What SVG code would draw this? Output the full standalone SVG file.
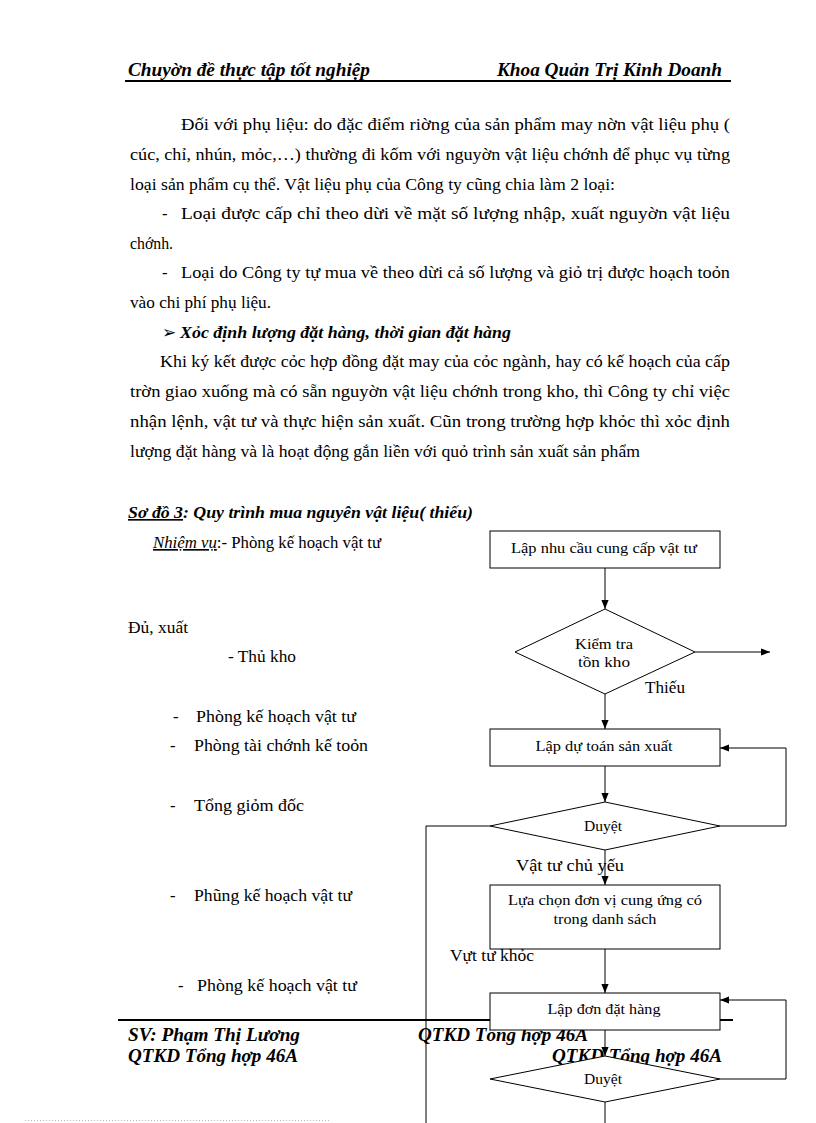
<svg xmlns="http://www.w3.org/2000/svg" width="816" height="1123" viewBox="0 0 816 1123">
<defs>
<style>
.body{font-family:"Liberation Serif","Times New Roman",serif;font-size:16.5px;fill:#000}
.hdr{font-family:"Liberation Serif","Times New Roman",serif;font-size:18px;font-weight:bold;font-style:italic;fill:#000}
.lbl{font-family:"Liberation Serif","Times New Roman",serif;font-size:16.5px;fill:#000}
.fc{font-family:"Liberation Serif","Times New Roman",serif;font-size:15.5px;fill:#000;text-anchor:middle}
.shape{fill:#fff;stroke:#000;stroke-width:1}
.conn{fill:none;stroke:#000;stroke-width:1}
</style>
<marker id="arr" viewBox="0 0 10 10" refX="10" refY="5" markerWidth="9" markerHeight="9" markerUnits="userSpaceOnUse" orient="auto">
<path d="M0,1 L10,5 L0,9 z" fill="#000"/>
</marker>
</defs>
<rect width="816" height="1123" fill="#fff"/>

<g id="header">
<text class="hdr" x="128" y="76" textLength="242" lengthAdjust="spacingAndGlyphs">Chuyờn đề thực tập tốt nghiệp</text>
<text class="hdr" x="497" y="76" textLength="225" lengthAdjust="spacingAndGlyphs">Khoa Quản Trị Kinh Doanh</text>
<line x1="125" y1="81" x2="731" y2="81" stroke="#000" stroke-width="2"/>
</g>

<g id="body-text">
<text class="body" x="181" y="130" textLength="549" lengthAdjust="spacingAndGlyphs">Đối với phụ liệu: do đặc điểm riờng của sản phẩm may nờn vật liệu phụ (</text>
<text class="body" x="130" y="160" textLength="600" lengthAdjust="spacingAndGlyphs">cúc, chỉ, nhún, mỏc,…) thường đi kốm với nguyờn vật liệu chớnh để phục vụ từng</text>
<text class="body" x="130" y="190" textLength="485" lengthAdjust="spacingAndGlyphs">loại sản phẩm cụ thể. Vật liệu phụ của Công ty cũng chia làm 2 loại:</text>
<text class="body" x="162" y="219">-</text>
<text class="body" x="181" y="219" textLength="549" lengthAdjust="spacingAndGlyphs">Loại được cấp chỉ theo dừi về mặt số lượng nhập, xuất nguyờn vật liệu</text>
<text class="body" x="130" y="249" textLength="43" lengthAdjust="spacingAndGlyphs">chớnh.</text>
<text class="body" x="162" y="278">-</text>
<text class="body" x="181" y="278" textLength="549" lengthAdjust="spacingAndGlyphs">Loại do Công ty tự mua về theo dừi cả số lượng và giỏ trị được hoạch toỏn</text>
<text class="body" x="130" y="308" textLength="141" lengthAdjust="spacingAndGlyphs">vào chi phí phụ liệu.</text>
<text class="body" x="162" y="338" font-size="13">➢</text>
<text class="body" x="180" y="338" font-weight="bold" font-style="italic" textLength="331" lengthAdjust="spacingAndGlyphs">Xỏc định lượng đặt hàng, thời gian đặt hàng</text>
<text class="body" x="160" y="367" textLength="570" lengthAdjust="spacingAndGlyphs">Khi ký kết được cỏc hợp đồng đặt may của cỏc ngành, hay có kế hoạch của cấp</text>
<text class="body" x="130" y="397" textLength="600" lengthAdjust="spacingAndGlyphs">trờn giao xuống mà có sẵn nguyờn vật liệu chớnh trong kho, thì Công ty chỉ việc</text>
<text class="body" x="130" y="427" textLength="600" lengthAdjust="spacingAndGlyphs">nhận lệnh, vật tư và thực hiện sản xuất. Cũn trong trường hợp khỏc thì xỏc định</text>
<text class="body" x="130" y="457" textLength="510" lengthAdjust="spacingAndGlyphs">lượng đặt hàng và là hoạt động gắn liền với quỏ trình sản xuất sản phẩm</text>
</g>

<g id="left-labels">
<text class="lbl" x="128" y="518" font-size="17" font-weight="bold" font-style="italic" textLength="345" lengthAdjust="spacingAndGlyphs"><tspan text-decoration="underline">Sơ đồ 3</tspan>: Quy trình mua nguyên vật liệu( thiếu)</text>
<text class="lbl" x="153" y="548" textLength="228" lengthAdjust="spacingAndGlyphs"><tspan font-style="italic" text-decoration="underline">Nhiệm vụ</tspan>:- Phòng kế hoạch vật tư</text>
<text class="lbl" x="128" y="633" textLength="60" lengthAdjust="spacingAndGlyphs">Đủ, xuất</text>
<text class="lbl" x="228" y="662" textLength="68" lengthAdjust="spacingAndGlyphs">- Thủ kho</text>
<text class="lbl" x="173" y="722">-</text>
<text class="lbl" x="196" y="722" textLength="160" lengthAdjust="spacingAndGlyphs">Phòng kế hoạch vật tư</text>
<text class="lbl" x="170" y="751">-</text>
<text class="lbl" x="194" y="751" textLength="174" lengthAdjust="spacingAndGlyphs">Phòng tài chớnh kế toỏn</text>
<text class="lbl" x="170" y="811">-</text>
<text class="lbl" x="194" y="811" textLength="110" lengthAdjust="spacingAndGlyphs">Tổng giỏm đốc</text>
<text class="lbl" x="170" y="901">-</text>
<text class="lbl" x="194" y="901" textLength="158" lengthAdjust="spacingAndGlyphs">Phũng kế hoạch vật tư</text>
<text class="lbl" x="178" y="991">-</text>
<text class="lbl" x="197" y="991" textLength="160" lengthAdjust="spacingAndGlyphs">Phòng kế hoạch vật tư</text>
</g>

<g id="footer">
<line x1="118" y1="1020" x2="733" y2="1020" stroke="#000" stroke-width="2"/>
<text class="hdr" x="128" y="1041" textLength="172" lengthAdjust="spacingAndGlyphs">SV: Phạm Thị Lương</text>
<text class="hdr" x="418" y="1041" textLength="170" lengthAdjust="spacingAndGlyphs">QTKD Tổng hợp 46A</text>
<text class="hdr" x="128" y="1062" textLength="170" lengthAdjust="spacingAndGlyphs">QTKD Tổng hợp 46A</text>
<text class="hdr" x="552" y="1062" textLength="170" lengthAdjust="spacingAndGlyphs">QTKD Tổng hợp 46A</text>
<line x1="25" y1="1120.5" x2="330" y2="1120.5" stroke="#bbb" stroke-width="1" stroke-dasharray="1,2"/>
</g>

<g id="connectors">
<line class="conn" x1="605" y1="568" x2="605" y2="609" marker-end="url(#arr)"/>
<line class="conn" x1="695" y1="652" x2="770" y2="652" marker-end="url(#arr)"/>
<line class="conn" x1="605" y1="694" x2="605" y2="729" marker-end="url(#arr)"/>
<line class="conn" x1="605" y1="766" x2="605" y2="802" marker-end="url(#arr)"/>
<polyline class="conn" points="720,826 786,826 786,748 720,748" marker-end="url(#arr)"/>
<polyline class="conn" points="490,826 426,826 426,1123"/>
<line class="conn" x1="605" y1="850" x2="605" y2="885" marker-end="url(#arr)"/>
<line class="conn" x1="605" y1="949" x2="605" y2="993" marker-end="url(#arr)"/>
<line class="conn" x1="605" y1="1030" x2="605" y2="1056" marker-end="url(#arr)"/>
<polyline class="conn" points="720,1079 786,1079 786,1000 720,1000" marker-end="url(#arr)"/>
<line class="conn" x1="605" y1="1102" x2="605" y2="1123"/>
</g>

<g id="node-lap-nhu-cau">
<rect class="shape" x="490" y="531" width="230" height="37"/>
<text class="fc" x="604" y="553" textLength="186" lengthAdjust="spacingAndGlyphs">Lập nhu cầu cung cấp vật tư</text>
</g>
<g id="node-kiem-tra">
<polygon class="shape" points="605,609 695,652 605,694 515,652"/>
<text class="fc" x="604" y="649" textLength="58" lengthAdjust="spacingAndGlyphs">Kiểm tra</text>
<text class="fc" x="604" y="667" textLength="52" lengthAdjust="spacingAndGlyphs">tồn kho</text>
</g>
<g id="edge-labels">
<text class="lbl" x="645" y="693" textLength="40" lengthAdjust="spacingAndGlyphs">Thiếu</text>
<text class="lbl" x="516" y="871" textLength="108" lengthAdjust="spacingAndGlyphs">Vật tư chủ yếu</text>
<text class="lbl" x="450" y="961" textLength="84" lengthAdjust="spacingAndGlyphs">Vựt tư khỏc</text>
</g>
<g id="node-lap-du-toan">
<rect class="shape" x="490" y="729" width="230" height="37"/>
<text class="fc" x="604" y="751" textLength="137" lengthAdjust="spacingAndGlyphs">Lập dự toán sản xuất</text>
</g>
<g id="node-duyet-1">
<polygon class="shape" points="605,802 720,826 605,850 490,826"/>
<text class="fc" x="603" y="831" textLength="38" lengthAdjust="spacingAndGlyphs">Duyệt</text>
</g>
<g id="node-lua-chon">
<rect class="shape" x="490" y="885" width="230" height="64"/>
<text class="fc" x="605" y="905" textLength="194" lengthAdjust="spacingAndGlyphs">Lựa chọn đơn vị cung ứng có</text>
<text class="fc" x="605" y="924" textLength="103" lengthAdjust="spacingAndGlyphs">trong danh sách</text>
</g>
<g id="node-lap-don">
<rect class="shape" x="490" y="993" width="230" height="37"/>
<text class="fc" x="604" y="1014" textLength="113" lengthAdjust="spacingAndGlyphs">Lập đơn đặt hàng</text>
</g>
<g id="node-duyet-2">
<polygon class="shape" points="605,1056 720,1079 605,1102 490,1079"/>
<text class="fc" x="603" y="1084" textLength="38" lengthAdjust="spacingAndGlyphs">Duyệt</text>
</g>
</svg>
